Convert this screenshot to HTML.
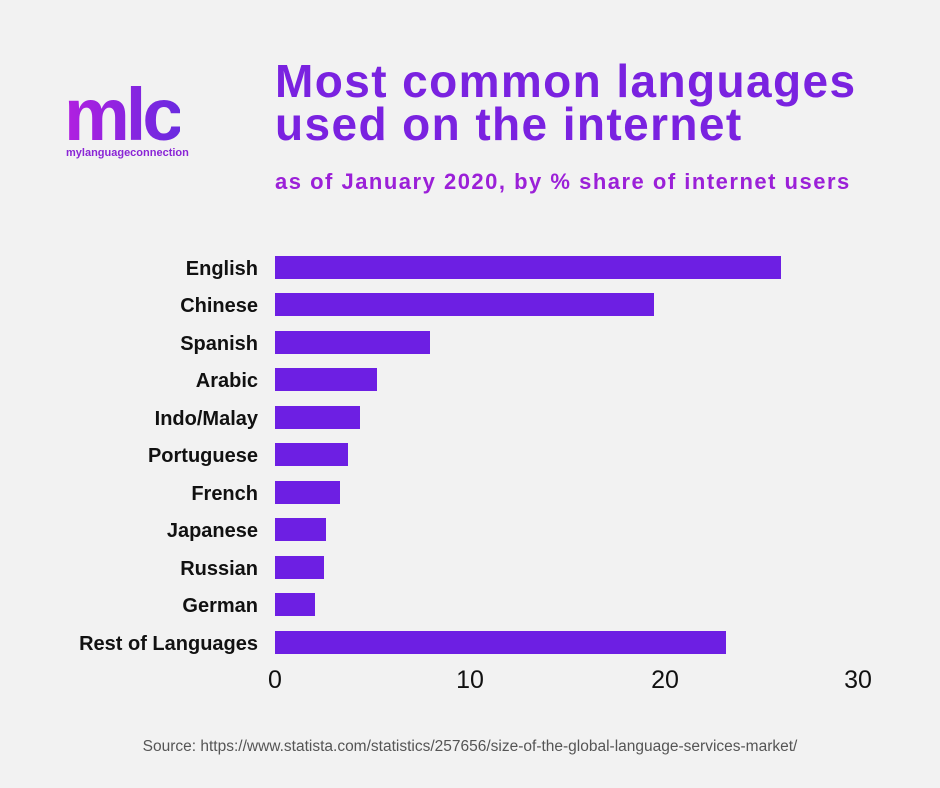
<!DOCTYPE html>
<html><head><meta charset="utf-8"><style>
body{margin:0;width:940px;height:788px;background:#f2f2f2;font-family:"Liberation Sans",sans-serif;position:relative;overflow:hidden}
.t{position:absolute;white-space:nowrap}
.bar{position:absolute;left:275px;height:23px;background:#6d1fe3}
.lab{position:absolute;right:682px;font-size:20px;font-weight:bold;color:#111;line-height:23px;text-align:right;white-space:nowrap;margin-top:2px}
.tick{position:absolute;top:666px;font-size:25px;color:#111;transform:translateX(-50%)}
</style></head><body>
<div class="t" style="left:64px;top:80px;font-size:74px;font-weight:bold;letter-spacing:-4px;line-height:70px;color:#9a22e0;background:linear-gradient(90deg,#b21fe0,#6a2ae0);-webkit-background-clip:text;background-clip:text;-webkit-text-fill-color:transparent">mlc</div>
<div class="t" style="left:66px;top:147px;font-size:11px;font-weight:bold;color:#8a25d6">mylanguageconnection</div>
<div class="t" style="left:275px;top:60px;font-size:46px;font-weight:bold;line-height:43px;letter-spacing:1.4px;color:#7a22e0">Most common languages<br>used on the internet</div>
<div class="t" style="left:275px;top:169px;font-size:22px;font-weight:bold;letter-spacing:1.5px;color:#9b20d8">as of January 2020, by % share of internet users</div>

<div class="lab" style="top:256px">English</div><div class="bar" style="top:256px;width:506px"></div>
<div class="lab" style="top:293px">Chinese</div><div class="bar" style="top:293px;width:379px"></div>
<div class="lab" style="top:331px">Spanish</div><div class="bar" style="top:331px;width:155px"></div>
<div class="lab" style="top:368px">Arabic</div><div class="bar" style="top:368px;width:102px"></div>
<div class="lab" style="top:406px">Indo/Malay</div><div class="bar" style="top:406px;width:85px"></div>
<div class="lab" style="top:443px">Portuguese</div><div class="bar" style="top:443px;width:73px"></div>
<div class="lab" style="top:481px">French</div><div class="bar" style="top:481px;width:65px"></div>
<div class="lab" style="top:518px">Japanese</div><div class="bar" style="top:518px;width:51px"></div>
<div class="lab" style="top:556px">Russian</div><div class="bar" style="top:556px;width:49px"></div>
<div class="lab" style="top:593px">German</div><div class="bar" style="top:593px;width:40px"></div>
<div class="lab" style="top:631px">Rest of Languages</div><div class="bar" style="top:631px;width:451px"></div>

<div class="tick" style="left:275px">0</div>
<div class="tick" style="left:470px">10</div>
<div class="tick" style="left:665px">20</div>
<div class="tick" style="left:858px">30</div>

<div class="t" style="left:0;width:940px;text-align:center;top:738px;font-size:15.5px;color:#555">Source: https://www.statista.com/statistics/257656/size-of-the-global-language-services-market/</div>
</body></html>
